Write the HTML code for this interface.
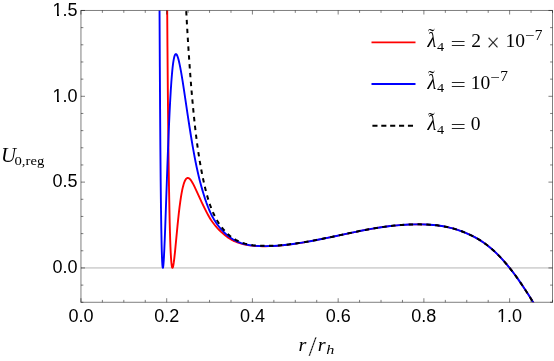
<!DOCTYPE html>
<html><head><meta charset="utf-8"><title>plot</title>
<style>
html,body{margin:0;padding:0;background:#fff;}
body{width:554px;height:361px;overflow:hidden;}
svg{display:block;will-change:transform;}
.tk text{font-family:"Liberation Sans",sans-serif;font-size:18px;fill:#000;}
.m{font-family:"Liberation Serif",serif;fill:#000;}
.i{font-style:italic;}
</style></head><body>
<svg width="554" height="361" viewBox="0 0 554 361">
<defs><clipPath id="c"><rect x="80.95" y="10.47" width="471.55" height="291.81"/></clipPath><clipPath id="k0"><path clip-rule="evenodd" d="M494.12,327.50h40v-30h-40zM497.62,319.45H501.62V322.30H497.62zM503.02,319.45H507.20V322.30H503.02z"/></clipPath><clipPath id="k2"><path clip-rule="evenodd" d="M49.48,107.65h40v-30h-40zM52.98,99.60H56.98V102.45H52.98zM59.02,99.60H62.56V102.45H59.02z"/></clipPath><clipPath id="k3"><path clip-rule="evenodd" d="M49.48,21.82h40v-30h-40zM52.98,13.77H56.98V16.62H52.98zM59.02,13.77H62.56V16.62H59.02z"/></clipPath></defs>
<rect width="554" height="361" fill="#fff"/>
<line x1="80.95" y1="267.95" x2="552.50" y2="267.95" stroke="#b4b4b4" stroke-width="1"/>
<g clip-path="url(#c)" fill="none" stroke-width="1.9" stroke-linejoin="round">
<path d="M233.42,240.68 L235.10,241.49 L236.21,241.98 L237.33,242.43 L239.00,243.06 L241.23,243.78 L242.91,244.25 L245.14,244.78 L247.37,245.22 L249.61,245.57 L251.84,245.85 L254.63,246.10 L256.86,246.25 L259.65,246.35 L262.44,246.40 L265.79,246.39 L269.14,246.31 L272.49,246.16 L275.84,245.95 L279.19,245.68 L282.53,245.37 L286.44,244.94 L290.35,244.45 L294.25,243.91 L298.16,243.33 L302.63,242.61 L307.09,241.84 L311.56,241.03 L316.58,240.08 L321.60,239.09 L332.76,236.78 L349.51,233.18 L355.65,231.89 L362.34,230.54 L368.48,229.37 L372.39,228.67 L375.74,228.11 L379.65,227.49 L382.99,227.00 L386.34,226.54 L389.69,226.13 L393.04,225.75 L396.39,225.42 L400.85,225.04 L404.76,224.78 L409.23,224.55 L413.13,224.43 L417.60,224.37 L421.50,224.39 L425.41,224.48 L429.32,224.67 L432.67,224.92 L436.01,225.25 L439.36,225.67 L442.71,226.19 L446.06,226.82 L448.85,227.43 L452.20,228.27 L454.99,229.05 L458.34,230.11 L461.69,231.29 L465.04,232.60 L468.39,234.04 L470.06,234.81 L471.73,235.62 L474.52,237.05 L476.20,237.96 L477.87,238.92 L480.66,240.64 L483.45,242.49 L485.13,243.68 L486.24,244.50 L487.92,245.79 L489.04,246.67 L491.27,248.53 L492.94,249.99 L494.06,251.00 L496.85,253.64 L499.08,255.87 L501.87,258.82 L504.10,261.31 L506.89,264.56 L509.13,267.29 L511.92,270.84 L514.71,274.54 L517.50,278.39 L520.29,282.38 L523.08,286.50 L525.87,290.74 L528.66,295.08 L531.45,299.52 L534.80,304.95 L537.59,309.55 L540.94,315.14 L552.66,334.91" stroke="#ff0000" stroke-width="1.55"/>
<path d="M154.06,-417.80 L165.27,-417.80 L165.57,-326.95 L165.85,-251.57 L166.15,-179.49 L166.45,-115.86 L166.77,-56.07 L167.12,-0.76 L167.46,46.81 L167.82,89.92 L168.21,128.26 L168.62,161.68 L169.03,188.86 L169.48,212.72 L169.71,222.97 L169.95,231.85 L170.20,240.11 L170.46,247.02 L170.72,252.73 L171.00,257.68 L171.28,261.50 L171.58,264.48 L171.81,266.10 L171.94,266.74 L172.07,267.22 L172.20,267.55 L172.33,267.74 L172.46,267.80 L172.58,267.73 L172.71,267.55 L172.86,267.20 L173.14,266.20 L173.46,264.55 L173.78,262.45 L174.30,258.37 L174.90,252.80 L175.48,246.94 L177.47,226.04 L178.16,219.31 L178.80,213.40 L179.51,207.41 L180.22,202.02 L180.90,197.36 L181.61,193.15 L182.25,189.83 L182.92,186.90 L183.24,185.65 L183.58,184.44 L183.92,183.34 L184.27,182.36 L184.61,181.50 L184.97,180.69 L185.34,180.00 L185.70,179.42 L186.07,178.95 L186.45,178.56 L186.84,178.27 L187.23,178.08 L187.50,178.01 L187.78,177.98 L188.06,177.99 L188.36,178.06 L188.64,178.16 L188.94,178.31 L189.24,178.51 L189.56,178.76 L190.21,179.40 L190.87,180.22 L191.56,181.21 L192.31,182.44 L193.38,184.40 L194.62,186.91 L195.89,189.61 L199.70,197.94 L201.74,202.30 L204.42,207.88 L206.43,211.91 L207.35,213.66 L208.23,215.27 L209.09,216.78 L209.91,218.14 L210.74,219.47 L211.60,220.77 L212.48,222.03 L213.40,223.28 L214.54,224.74 L215.72,226.16 L216.96,227.58 L218.31,229.04 L219.47,230.23 L221.14,231.87 L222.82,233.40 L223.93,234.36 L225.05,235.28 L226.72,236.56 L227.84,237.36 L229.51,238.47 L230.63,239.15 L232.30,240.10 L233.42,240.68 L235.10,241.49" stroke="#ff0000"/>
<path d="M154.06,-417.80 L158.18,-417.80 L158.20,-417.33 L158.63,-244.24 L159.08,-101.51 L159.31,-40.19 L159.57,17.59 L159.83,66.92 L160.09,108.77 L160.36,146.65 L160.66,179.88 L160.96,206.31 L161.29,228.16 L161.63,245.20 L161.80,251.63 L161.99,257.39 L162.19,261.74 L162.38,264.82 L162.57,266.76 L162.68,267.39 L162.79,267.73 L162.83,267.79 L162.87,267.80 L162.96,267.70 L163.04,267.44 L163.13,267.03 L163.32,265.60 L163.52,263.52 L163.71,260.87 L163.92,257.34 L164.37,248.30 L164.78,238.68 L165.23,226.94 L167.35,166.95 L167.91,151.93 L168.45,138.27 L169.03,124.53 L169.60,111.97 L170.18,100.67 L170.74,91.01 L171.34,81.99 L171.94,74.40 L172.24,71.11 L172.56,67.96 L172.88,65.17 L173.21,62.74 L173.53,60.64 L173.85,58.87 L174.19,57.31 L174.53,56.08 L174.88,55.16 L175.05,54.81 L175.24,54.50 L175.41,54.30 L175.61,54.15 L175.78,54.08 L175.97,54.07 L176.19,54.15 L176.42,54.33 L176.66,54.61 L176.89,54.98 L177.13,55.44 L177.39,56.02 L177.90,57.46 L178.44,59.29 L178.99,61.50 L179.57,64.09 L180.19,67.16 L180.75,70.13 L181.33,73.40 L182.62,81.20 L184.07,90.63 L187.78,115.54 L189.65,127.74 L190.68,134.23 L191.66,140.25 L192.61,145.81 L193.55,151.15 L194.60,156.84 L195.65,162.23 L196.68,167.22 L197.73,172.01 L198.82,176.69 L199.94,181.17 L201.10,185.54 L202.32,189.87 L203.71,194.52 L205.10,198.88 L206.45,202.81 L207.80,206.45 L209.13,209.74 L210.44,212.68 L211.13,214.12 L211.81,215.48 L212.52,216.82 L213.25,218.13 L214.04,219.48 L214.88,220.83 L215.74,222.15 L216.62,223.44 L217.47,224.63 L218.35,225.80 L219.47,227.22 L220.58,228.57 L222.26,230.47 L223.37,231.65 L224.49,232.76 L225.61,233.81 L226.72,234.80 L227.84,235.73 L228.96,236.60 L230.63,237.80 L231.75,238.54 L232.86,239.23 L234.54,240.17 L235.65,240.75 L236.77,241.28 L237.89,241.78 L239.00,242.24 L240.12,242.67 L241.23,243.06 L243.47,243.75 L245.70,244.32 L247.93,244.80 L249.05,245.00 L250.72,245.26 L253.51,245.61 L256.30,245.85 L259.65,246.04 L263.00,246.13 L266.35,246.13 L269.70,246.06 L273.05,245.93 L276.95,245.69 L280.86,245.37 L284.77,244.99 L288.67,244.54 L293.14,243.96 L297.60,243.31 L302.07,242.61 L306.53,241.85 L311.56,240.95 L316.58,240.01 L321.60,239.02 L327.18,237.89 L332.76,236.73 L349.51,233.14 L355.65,231.85 L362.34,230.51 L368.48,229.34 L372.39,228.65 L375.74,228.09 L379.65,227.47 L382.99,226.98 L386.90,226.45 L390.25,226.04 L393.60,225.68 L396.95,225.35 L401.41,224.98 L405.32,224.73 L409.78,224.52 L413.69,224.40 L418.16,224.35 L422.06,224.38 L425.97,224.49 L429.88,224.70 L433.22,224.96 L436.57,225.30 L439.92,225.74 L443.27,226.28 L446.62,226.93 L449.41,227.56 L452.76,228.41 L455.55,229.22 L458.90,230.30 L462.25,231.50 L465.59,232.83 L468.94,234.29 L470.62,235.07 L472.29,235.89 L475.08,237.34 L477.87,238.92 L480.66,240.63 L483.45,242.49 L485.13,243.68 L486.24,244.50 L487.92,245.78 L489.04,246.67 L491.27,248.53 L492.94,249.99 L494.06,251.00 L496.85,253.64 L499.08,255.87 L501.87,258.82 L504.10,261.31 L506.89,264.56 L509.13,267.29 L511.92,270.84 L514.71,274.54 L517.50,278.39 L520.29,282.38 L523.08,286.50 L525.87,290.74 L528.66,295.08 L531.45,299.52 L534.80,304.95 L537.59,309.55 L540.94,315.14 L552.66,334.91" stroke="#0000ff"/>
<path d="M186.20,10.70 L186.98,24.59 L187.77,37.95 L188.58,50.77 L189.42,63.04 L190.28,74.77 L191.16,85.96 L192.06,96.62 L193.00,106.96 L193.95,116.52 L194.91,125.55 L195.90,134.04 L196.91,142.02 L197.93,149.48 L199.03,156.74 L200.17,163.63 L201.37,170.30 L202.61,176.62 L203.94,182.82 L205.27,188.51 L205.93,191.16 L206.62,193.78 L207.31,196.27 L207.99,198.63 L208.68,200.87 L209.37,203.00 L210.05,205.00 L210.76,206.96 L211.49,208.85 L212.24,210.69 L213.03,212.52 L213.85,214.29 L214.68,215.99 L215.56,217.68 L216.49,219.35 L217.43,220.96 L218.35,222.45 L219.47,224.15 L220.58,225.76 L221.70,227.27 L222.82,228.69 L223.93,230.03 L225.05,231.28 L226.17,232.46 L227.28,233.56 L228.40,234.58 L230.07,236.00 L231.19,236.86 L232.30,237.67 L233.98,238.77 L235.10,239.44 L236.21,240.07 L237.33,240.64 L238.44,241.18 L239.56,241.67 L240.68,242.13 L241.79,242.54 L242.91,242.93 L245.14,243.60 L247.37,244.16 L248.49,244.40 L250.16,244.72 L252.95,245.14 L255.75,245.45 L257.42,245.59 L259.09,245.69 L262.44,245.83 L265.79,245.88 L269.70,245.84 L273.05,245.73 L276.95,245.51 L280.86,245.21 L284.77,244.84 L288.67,244.41 L293.14,243.84 L297.60,243.21 L302.07,242.51 L306.53,241.77 L311.56,240.88 L316.58,239.94 L321.60,238.96 L327.18,237.84 L332.76,236.68 L350.07,232.99 L356.21,231.71 L362.90,230.37 L369.04,229.21 L372.95,228.53 L376.30,227.97 L380.20,227.36 L383.55,226.88 L387.46,226.36 L390.81,225.96 L394.16,225.60 L397.51,225.28 L401.97,224.93 L406.44,224.66 L410.90,224.47 L414.81,224.37 L419.27,224.34 L423.18,224.40 L427.09,224.53 L430.43,224.73 L433.78,225.00 L437.13,225.36 L440.48,225.82 L443.83,226.38 L447.18,227.04 L449.97,227.69 L453.32,228.56 L456.11,229.38 L459.46,230.48 L462.80,231.71 L466.15,233.06 L468.94,234.29 L470.62,235.07 L472.29,235.89 L475.08,237.34 L477.87,238.92 L480.66,240.63 L483.45,242.49 L485.13,243.68 L486.24,244.50 L487.92,245.78 L489.04,246.67 L491.27,248.53 L492.94,249.99 L494.06,251.00 L496.85,253.64 L499.08,255.87 L501.87,258.82 L504.10,261.31 L506.89,264.56 L509.13,267.29 L511.92,270.84 L514.71,274.54 L517.50,278.39 L520.29,282.38 L523.08,286.50 L525.87,290.74 L528.66,295.08 L531.45,299.52 L534.80,304.96 L537.59,309.55 L540.94,315.14 L552.66,334.91" stroke="#000" stroke-width="2.0" stroke-dasharray="4.42 4.425" stroke-dashoffset="-0.4"/>
</g>
<rect x="80.95" y="10.47" width="471.55" height="291.81" fill="none" stroke="#000" stroke-opacity="0.5" stroke-width="1"/>
<path d="M80.95,302.28L80.95,298.23 M80.95,10.47L80.95,14.52 M102.38,302.28L102.38,299.88 M102.38,10.47L102.38,12.87 M123.82,302.28L123.82,299.88 M123.82,10.47L123.82,12.87 M145.25,302.28L145.25,299.88 M145.25,10.47L145.25,12.87 M166.69,302.28L166.69,298.23 M166.69,10.47L166.69,14.52 M188.12,302.28L188.12,299.88 M188.12,10.47L188.12,12.87 M209.55,302.28L209.55,299.88 M209.55,10.47L209.55,12.87 M230.99,302.28L230.99,299.88 M230.99,10.47L230.99,12.87 M252.42,302.28L252.42,298.23 M252.42,10.47L252.42,14.52 M273.86,302.28L273.86,299.88 M273.86,10.47L273.86,12.87 M295.29,302.28L295.29,299.88 M295.29,10.47L295.29,12.87 M316.72,302.28L316.72,299.88 M316.72,10.47L316.72,12.87 M338.16,302.28L338.16,298.23 M338.16,10.47L338.16,14.52 M359.59,302.28L359.59,299.88 M359.59,10.47L359.59,12.87 M381.03,302.28L381.03,299.88 M381.03,10.47L381.03,12.87 M402.46,302.28L402.46,299.88 M402.46,10.47L402.46,12.87 M423.89,302.28L423.89,298.23 M423.89,10.47L423.89,14.52 M445.33,302.28L445.33,299.88 M445.33,10.47L445.33,12.87 M466.76,302.28L466.76,299.88 M466.76,10.47L466.76,12.87 M488.20,302.28L488.20,299.88 M488.20,10.47L488.20,12.87 M509.63,302.28L509.63,298.23 M509.63,10.47L509.63,14.52 M531.06,302.28L531.06,299.88 M531.06,10.47L531.06,12.87 M552.50,302.28L552.50,299.88 M552.50,10.47L552.50,12.87 M80.95,302.28L83.35,302.28 M552.50,302.28L550.10,302.28 M80.95,285.12L83.35,285.12 M552.50,285.12L550.10,285.12 M80.95,267.95L85.00,267.95 M552.50,267.95L548.45,267.95 M80.95,250.78L83.35,250.78 M552.50,250.78L550.10,250.78 M80.95,233.62L83.35,233.62 M552.50,233.62L550.10,233.62 M80.95,216.45L83.35,216.45 M552.50,216.45L550.10,216.45 M80.95,199.29L83.35,199.29 M552.50,199.29L550.10,199.29 M80.95,182.12L85.00,182.12 M552.50,182.12L548.45,182.12 M80.95,164.96L83.35,164.96 M552.50,164.96L550.10,164.96 M80.95,147.79L83.35,147.79 M552.50,147.79L550.10,147.79 M80.95,130.63L83.35,130.63 M552.50,130.63L550.10,130.63 M80.95,113.46L83.35,113.46 M552.50,113.46L550.10,113.46 M80.95,96.30L85.00,96.30 M552.50,96.30L548.45,96.30 M80.95,79.13L83.35,79.13 M552.50,79.13L550.10,79.13 M80.95,61.97L83.35,61.97 M552.50,61.97L550.10,61.97 M80.95,44.80L83.35,44.80 M552.50,44.80L550.10,44.80 M80.95,27.64L83.35,27.64 M552.50,27.64L550.10,27.64 M80.95,10.47L85.00,10.47 M552.50,10.47L548.45,10.47" stroke="#000" stroke-opacity="0.5" stroke-width="1" fill="none"/>
<g class="tk"><text x="80.95" y="321.50" text-anchor="middle">0.0</text><text x="166.69" y="321.50" text-anchor="middle">0.2</text><text x="252.42" y="321.50" text-anchor="middle">0.4</text><text x="338.16" y="321.50" text-anchor="middle">0.6</text><text x="423.89" y="321.50" text-anchor="middle">0.8</text><text x="509.63" y="321.50" text-anchor="middle" clip-path="url(#k0)">1.0</text><text x="77.50" y="273.30" text-anchor="end">0.0</text><text x="77.50" y="187.47" text-anchor="end">0.5</text><text x="77.50" y="101.65" text-anchor="end" clip-path="url(#k2)">1.0</text><text x="77.50" y="15.82" text-anchor="end" clip-path="url(#k3)">1.5</text></g>
<!-- legend -->
<line x1="371.5" y1="42.4" x2="415.5" y2="42.4" stroke="#ff0000" stroke-width="1.9"/>
<line x1="371.5" y1="84.0" x2="415.5" y2="84.0" stroke="#0000ff" stroke-width="1.9"/>
<line x1="372.4" y1="125.7" x2="415.5" y2="125.7" stroke="#000" stroke-width="2" stroke-dasharray="5.1 3.78"/>
<g class="m">
<text class="m i" x="427.60" y="47.00" font-size="20.4">λ</text>
<text class="m" x="428.10" y="43.30" font-size="20">˜</text>
<text class="m" transform="translate(437.10 50.60) scale(1.080 1.000)" font-size="13.2">4</text>
<text class="m" transform="translate(450.40 49.50) scale(1.517 1.000)" font-size="18" fill-opacity="0.85">=</text>
<text class="m" x="471.20" y="46.80" font-size="19.5">2</text>
<text class="m" x="486.20" y="50.50" font-size="24.2" stroke="#fff" stroke-width="0.2">×</text>
<text class="m" x="505.40" y="46.80" font-size="19.5">10</text>
<text class="m" transform="translate(525.20 40.00) scale(1.200 1.000)" font-size="14">−</text>
<text class="m" transform="translate(534.80 39.50) scale(1.100 1.000)" font-size="14">7</text>
<text class="m i" x="427.60" y="88.70" font-size="20.4">λ</text>
<text class="m" x="428.10" y="85.00" font-size="20">˜</text>
<text class="m" transform="translate(437.10 92.30) scale(1.080 1.000)" font-size="13.2">4</text>
<text class="m" transform="translate(450.40 91.20) scale(1.517 1.000)" font-size="18" fill-opacity="0.85">=</text>
<text class="m" x="470.80" y="88.50" font-size="19.5">10</text>
<text class="m" transform="translate(490.60 81.70) scale(1.200 1.000)" font-size="14">−</text>
<text class="m" transform="translate(500.20 81.20) scale(1.100 1.000)" font-size="14">7</text>
<text class="m i" x="427.60" y="130.40" font-size="20.4">λ</text>
<text class="m" x="428.10" y="126.70" font-size="20">˜</text>
<text class="m" transform="translate(437.10 134.00) scale(1.080 1.000)" font-size="13.2">4</text>
<text class="m" transform="translate(450.40 132.90) scale(1.517 1.000)" font-size="18" fill-opacity="0.85">=</text>
<text class="m" x="470.80" y="130.20" font-size="19.5">0</text>
</g>
<g class="m">
<text class="m i" x="1.00" y="161.80" font-size="20.8">U</text>
<text class="m" transform="translate(14.50 164.60) scale(1.149 1.000)" font-size="12.8">0,reg</text>
<text class="m i" transform="translate(298.50 351.00) scale(1.140 1.000)" font-size="17.8">r</text>
<text class="m" x="308.50" y="355.60" font-size="29.5" stroke="#fff" stroke-width="0.3">/</text>
<text class="m i" transform="translate(317.70 351.00) scale(1.140 1.000)" font-size="17.8">r</text>
<text class="m i" transform="translate(326.30 354.30) scale(1.300 1.000)" font-size="12.5">h</text>
</g>
</svg>
</body></html>
